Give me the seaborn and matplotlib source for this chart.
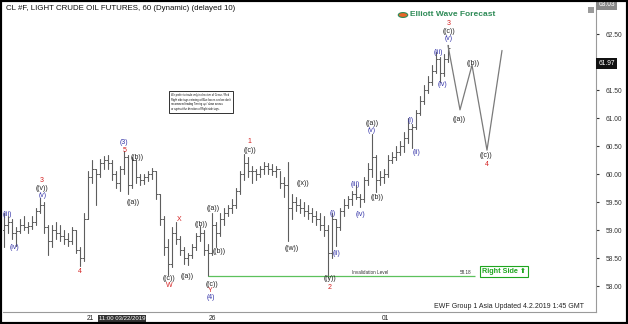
import matplotlib
matplotlib.use("Agg")
import matplotlib.pyplot as plt
import seaborn as sns
import pandas as pd
from matplotlib.patches import Rectangle, Circle

# ---------------- data ----------------
high = [59.30, 59.25, 59.20, 59.05, 59.20, 59.25, 59.15, 59.25, 59.40, 59.58,
        59.50, 59.10, 59.10, 59.15, 59.10, 59.00, 58.95, 59.05, 59.00, 58.70,
        59.30, 60.05, 60.25, 60.10, 60.28, 60.32, 60.35, 60.25, 60.05, 60.15,
        60.42, 60.35, 60.30, 60.28, 60.00, 60.00, 60.05, 60.12, 60.05, 59.65,
        59.25, 58.85, 59.05, 59.15, 58.90, 58.70, 58.60, 58.75, 58.95, 59.08,
        59.00, 58.75, 59.30, 59.15, 59.30, 59.40, 59.45, 59.55, 59.75, 60.05,
        60.36, 60.30, 60.15, 60.10, 60.15, 60.22, 60.20, 60.18, 60.15, 60.05,
        59.95, 60.22, 59.65, 59.60, 59.55, 59.50, 59.45, 59.40, 59.35, 59.30,
        59.25, 59.10, 59.30, 59.20, 59.40, 59.55, 59.62, 59.70, 59.80, 59.65,
        59.95, 60.20, 60.72, 60.35, 60.05, 60.10, 60.35, 60.40, 60.50, 60.60,
        60.75, 61.00, 60.90, 61.15, 61.40, 61.60, 61.75, 61.95, 62.18, 62.10,
        62.15, 62.30]
low = [58.70, 58.95, 58.85, 58.72, 58.95, 59.00, 58.95, 59.02, 59.10, 59.30,
       58.95, 58.55, 58.70, 58.85, 58.80, 58.75, 58.72, 58.75, 58.60, 58.36,
       58.45, 59.20, 59.85, 59.45, 59.95, 60.10, 60.10, 59.90, 59.75, 59.70,
       60.00, 59.65, 59.75, 59.85, 59.80, 59.82, 59.88, 59.92, 59.55, 59.10,
       58.55, 58.20, 58.35, 58.75, 58.55, 58.40, 58.38, 58.50, 58.65, 58.80,
       58.55, 58.18, 58.55, 58.70, 58.90, 59.10, 59.25, 59.30, 59.40, 59.65,
       59.90, 59.95, 59.85, 59.90, 59.95, 60.00, 60.00, 59.98, 59.95, 59.75,
       59.60, 58.80, 59.20, 59.35, 59.30, 59.25, 59.20, 59.15, 59.10, 59.00,
       58.90, 58.17, 58.50, 58.72, 59.00, 59.25, 59.40, 59.45, 59.55, 59.42,
       59.50, 59.80, 59.95, 59.68, 59.80, 59.85, 59.95, 60.20, 60.25, 60.35,
       60.40, 60.55, 60.46, 60.80, 61.05, 61.25, 61.45, 61.60, 61.80, 61.64,
       61.75, 62.00]
close = [59.10, 59.15, 58.95, 58.98, 59.10, 59.05, 59.08, 59.15, 59.35, 59.45,
         59.05, 58.80, 59.00, 58.95, 58.90, 58.85, 58.80, 59.00, 58.65, 58.50,
         59.20, 59.95, 60.10, 60.00, 60.20, 60.25, 60.20, 60.00, 59.85, 60.10,
         60.30, 59.80, 60.25, 59.95, 59.90, 59.95, 60.00, 60.05, 59.65, 59.20,
         58.70, 58.40, 58.95, 58.85, 58.65, 58.50, 58.55, 58.70, 58.90, 58.95,
         58.65, 58.60, 59.10, 58.95, 59.20, 59.30, 59.40, 59.45, 59.70, 60.00,
         60.20, 60.05, 60.05, 60.00, 60.10, 60.15, 60.10, 60.05, 60.10, 59.85,
         59.80, 59.40, 59.50, 59.45, 59.40, 59.35, 59.30, 59.25, 59.20, 59.10,
         59.00, 58.60, 59.20, 59.05, 59.35, 59.45, 59.55, 59.65, 59.60, 59.55,
         59.90, 60.10, 60.30, 59.90, 59.95, 60.00, 60.25, 60.30, 60.40, 60.50,
         60.65, 60.80, 60.85, 61.10, 61.30, 61.50, 61.65, 61.85, 62.05, 61.80,
         62.05, 62.25]
first_open = 59.00

proj_x = [111, 114, 117, 120.75, 124.5]
proj_y = [62.30, 61.15, 61.95, 60.43, 62.21]

invalidation = 58.18
last_price = 61.97
top_price = 63.03

day_ticks = [21.5, 52, 95.25]
day_labels = ["21", "26", "01"]
price_ticks = [58.0, 58.5, 59.0, 59.5, 60.0, 60.5, 61.0, 61.5, 62.0, 62.5]

BLK, BLU, RED = "#222222", "#3434a8", "#d42020"
wave_labels = [
    ("(iii)", 0.75, 59.29, BLU), ("(iv)", 2.75, 58.70, BLU),
    ("3", 9.5, 59.89, RED), ("((v))", 9.5, 59.75, BLK), ("(v)", 9.75, 59.62, BLU),
    ("4", 19, 58.27, RED),
    ("(3)", 30, 60.57, BLU), ("5", 30.25, 60.42, RED),
    ("((b))", 33.4, 60.30, BLK), ("((a))", 32.25, 59.50, BLK),
    ("((c))", 41.25, 58.14, BLK), ("W", 41.25, 58.01, RED),
    ("X", 43.75, 59.20, RED), ("((a))", 45.75, 58.18, BLK),
    ("((b))", 49.25, 59.11, BLK), ("((a))", 52.25, 59.39, BLK),
    ("((b))", 53.9, 58.62, BLK), ("((c))", 52, 58.04, BLK),
    ("Y", 51.5, 57.92, RED), ("(4)", 51.75, 57.80, BLU),
    ("1", 61.25, 60.58, RED), ("((c))", 61.5, 60.43, BLK),
    ("((x))", 74.75, 59.84, BLK), ("((w))", 72, 58.68, BLK),
    ("((y))", 81.5, 58.13, BLK), ("2", 81.5, 57.98, RED),
    ("(i)", 82.25, 59.30, BLU), ("(ii)", 83.2, 58.59, BLU),
    ("(iii)", 87.75, 59.82, BLU), ("(iv)", 89.25, 59.29, BLU),
    ("((a))", 92, 60.91, BLK), ("(v)", 92, 60.78, BLU), ("((b))", 93.4, 59.59, BLK),
    ("(i)", 101.75, 60.96, BLU), ("(ii)", 103.25, 60.38, BLU),
    ("(iii)", 108.5, 62.18, BLU), ("(iv)", 109.75, 61.61, BLU),
    ("3", 111.25, 62.70, RED), ("((c))", 111.25, 62.55, BLK), ("(v)", 111.25, 62.42, BLU),
    ("((a))", 113.75, 60.98, BLK), ("((b))", 117.25, 61.98, BLK),
    ("((c))", 120.5, 60.34, BLK), ("4", 120.75, 60.18, RED),
]

# ---------------- build frames ----------------
n = len(close)
opens = [first_open] + close[:-1]
wick = pd.DataFrame({
    "bar": list(range(n)) * 2,
    "x": list(range(n)) * 2,
    "price": high + low,
})
proj = pd.DataFrame({"x": proj_x, "price": proj_y})

sns.set_style("white")
plt.rcParams["font.family"] = ["Liberation Sans", "DejaVu Sans"]

fig = plt.figure(figsize=(6.28, 3.24), dpi=100)
ax = fig.add_axes([3 / 628, 1 - 312 / 324, 593 / 628, 308 / 324])

BAR = "#5e5e5e"
sns.lineplot(data=wick, x="x", y="price", units="bar", estimator=None,
             color=BAR, linewidth=0.8, legend=False, ax=ax, sort=False)
xs = list(range(n))
ax.hlines(opens, [i - 0.45 for i in xs], xs, color=BAR, linewidth=0.7)
ax.hlines(close, xs, [i + 0.45 for i in xs], color=BAR, linewidth=0.7)

sns.lineplot(data=proj, x="x", y="price", color="#7a7a7a", linewidth=0.9,
             sort=False, ax=ax, legend=False)

# invalidation level
ax.hlines(invalidation, 51, 117.75, color="#5cc15c", linewidth=0.9)
ax.text(91.5, invalidation + 0.015, "Invalidation Level", fontsize=3.3,
        color="#333333", ha="center", va="bottom")
ax.text(115.5, invalidation + 0.015, f"{invalidation:.2f}", fontsize=3.3,
        color="#333333", ha="center", va="bottom")
ax.text(125, 58.27, "Right Side \u2b06", fontsize=5.2, color="#1fa61f",
        fontweight="bold", ha="center", va="center",
        bbox=dict(boxstyle="square,pad=0.25", fc="white", ec="#1fa61f", lw=0.8))

for t, x, y, c in wave_labels:
    ax.text(x, y, t, fontsize=5, color=c, ha="center", va="center")

ax.set_xlim(-0.25, 148)
ax.set_ylim(57.54, 63.04)
ax.set_xlabel("")
ax.set_ylabel("")

# axes styling
for s in ["top", "left"]:
    ax.spines[s].set_visible(False)
for s in ["right", "bottom"]:
    ax.spines[s].set_color("#9a9a9a")
    ax.spines[s].set_linewidth(0.8)
ax.yaxis.tick_right()
ax.set_yticks(price_ticks)
# the 62.00 label sits under the current-price box in the reference
ax.set_yticklabels(["" if abs(p - round(last_price * 2) / 2) < 1e-9 else f"{p:.2f}"
                    for p in price_ticks])
ax.tick_params(axis="y", labelsize=4.8, length=2, pad=5, colors="#333333",
               right=True)
ax.set_xticks(day_ticks)
ax.set_xticklabels(day_labels)
ax.tick_params(axis="x", labelsize=4.8, length=0, pad=2, colors="#222222")

# current price boxes on the right axis
ax.text(1.004, top_price, f"{top_price:.2f}", transform=ax.get_yaxis_transform(),
        fontsize=4.8, color="white", ha="left", va="center", clip_on=False,
        bbox=dict(boxstyle="square,pad=0.3", fc="#8a8a8a", ec="none"))
ax.text(1.004, last_price, f"{last_price:.2f}", transform=ax.get_yaxis_transform(),
        fontsize=4.8, color="white", ha="left", va="center", clip_on=False,
        bbox=dict(boxstyle="square,pad=0.3", fc="#111111", ec="none"))

# highlighted date on x axis
ax.text(29.5, -0.012, "11:00 03/22/2019", transform=ax.get_xaxis_transform(),
        fontsize=4.3, color="white", ha="center", va="top", clip_on=False,
        bbox=dict(boxstyle="square,pad=0.15", fc="#333333", ec="none"))

# title / annotations
fig.text(6 / 628, 1 - 9 / 324, "CL #F, LIGHT CRUDE OIL FUTURES, 60 (Dynamic) (delayed 10)",
         fontsize=5.7, color="#111111", ha="left", va="center")
fig.text(410 / 628, 1 - 15 / 324, "Elliott Wave Forecast", fontsize=6,
         fontweight="bold", color="#2e8b57", ha="left", va="center")
fig.patches.append(Circle((403 / 628, 1 - 15 / 324), 0.0075, transform=fig.transFigure,
                          fc="#e8662a", ec="#2e8b57", lw=0.8))
fig.text(584 / 628, 1 - 306 / 324, "EWF Group 1 Asia Updated 4.2.2019 1:45 GMT",
         fontsize=5, color="#222222", ha="right", va="center")

note = ("We prefer to trade only in direction of Green / Red\n"
        "Right side tags entering at Blue boxes and we don't\n"
        "recommend trading Turning up / down arrows\n"
        "or against the direction of Right side tags.")
fig.text(171 / 628, 1 - 102 / 324, note, fontsize=1.9, color="#111111",
         ha="left", va="center", linespacing=1.3,
         bbox=dict(boxstyle="square,pad=0.8", fc="white", ec="#111111", lw=0.6))

fig.patches.append(Rectangle((588 / 628, 1 - 13 / 324), 6 / 628, 6 / 324,
                             transform=fig.transFigure, fc="#9a9a9a", ec="none"))
# outer frame
fig.patches.append(Rectangle((0, 0), 1, 1, transform=fig.transFigure,
                             fc="none", ec="black", lw=3))

fig.savefig("out.png", dpi=100)
